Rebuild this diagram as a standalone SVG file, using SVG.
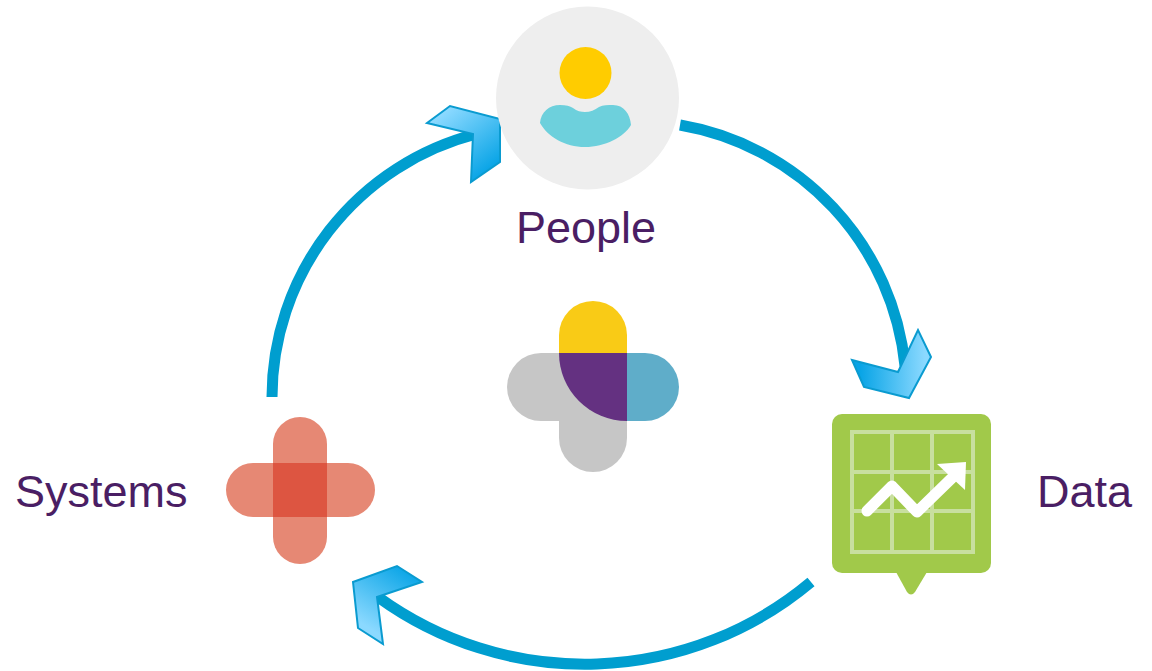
<svg xmlns="http://www.w3.org/2000/svg" width="1152" height="671" viewBox="0 0 1152 671">
<style>
.arc{fill:none;stroke:#009ecf;stroke-width:11}
.chev{stroke:#0a9bd0;stroke-width:2;stroke-linejoin:miter}
.label{font-family:"Liberation Sans",Arial,sans-serif;font-size:45px;fill:#4a1e64}
.grid{fill:none;stroke:#c8df9f;stroke-width:4}
.red{fill:#e68874}
</style>
<defs>
<linearGradient id="gData" gradientUnits="userSpaceOnUse" x1="860" y1="375" x2="925" y2="375"><stop offset="0" stop-color="#08a4e6"/><stop offset="1" stop-color="#8bd9ff"/></linearGradient>
<linearGradient id="gSys" gradientUnits="userSpaceOnUse" x1="372" y1="630" x2="410" y2="570"><stop offset="0" stop-color="#8bd9ff"/><stop offset="1" stop-color="#08a4e6"/></linearGradient>
<linearGradient id="gPeo" gradientUnits="userSpaceOnUse" x1="445" y1="112" x2="490" y2="170"><stop offset="0" stop-color="#8bd9ff"/><stop offset="1" stop-color="#08a4e6"/></linearGradient>
</defs>
<g id="connectors">
<path class="arc" d="M272 397A272 272 0 0 1 476 134"/>
<path class="arc" d="M680 125A272 272 0 0 1 905 366"/>
<path class="arc" d="M811 582A352 352 0 0 1 378 597"/>
<polygon class="chev" fill="url(#gPeo)" points="427,123 450,106 500,119 500,162 471,182 473,134"/>
<polygon class="chev" fill="url(#gData)" points="852,360 898,372 918,330 931,357 909,398 864,387"/>
<polygon class="chev" fill="url(#gSys)" points="353,582 397,566 422,582 377,597 383,644 358,628"/>
</g>
<g id="people">
<circle cx="587.5" cy="98" r="91.5" fill="#eeeeee"/>
<circle cx="585.5" cy="73" r="26" fill="#ffcc00"/>
<path fill="#6dd0dc" d="M540 123C541 112 549 105 560 105C566 105 570 106 573 108C577 111 581 112 585 112C590 112 595 110 599 107C603 105 608 105 613 105C624 105 630 114 631 125C624 137 605 147 585 147C565 147 548 137 540 123Z"/>
<text class="label" x="516" y="243">People</text>
</g>
<g id="data">
<rect x="832" y="414" width="159" height="159" rx="10" fill="#a1c94a"/>
<path d="M896 572L927 572L915 592Q911 597 907 592Z" fill="#a1c94a"/>
<rect class="grid" x="852" y="432" width="121" height="120"/>
<path class="grid" d="M892 432V552M932 432V552M852 472H973M852 511H973"/>
<path d="M867 511L892 486L917 512L955 475" fill="none" stroke="#fff" stroke-width="11" stroke-linecap="round" stroke-linejoin="round"/>
<polygon points="937,464 966,462 965,490" fill="#fff"/>
<text class="label" x="1037" y="507">Data</text>
</g>
<g id="systems">
<rect class="red" x="273" y="417" width="54" height="147" rx="27"/>
<rect class="red" x="226" y="463" width="149" height="54" rx="27"/>
<rect x="273" y="463" width="54" height="54" fill="#dd5541"/>
<text class="label" x="15" y="507">Systems</text>
</g>
<g id="center">
<path d="M559 387V438A34 34 0 0 0 627 438V387Z" fill="#c6c6c6"/>
<path d="M593 353H541A34 34 0 0 0 541 421H593Z" fill="#c6c6c6"/>
<path d="M559 353V335A34 34 0 0 1 627 335V353Z" fill="#f9cb16"/>
<path d="M627 353H645A34 34 0 0 1 645 421H627Z" fill="#5fadc9"/>
<path d="M559 353H627V421A68 68 0 0 1 559 353Z" fill="#643181"/>
</g>
</svg>
